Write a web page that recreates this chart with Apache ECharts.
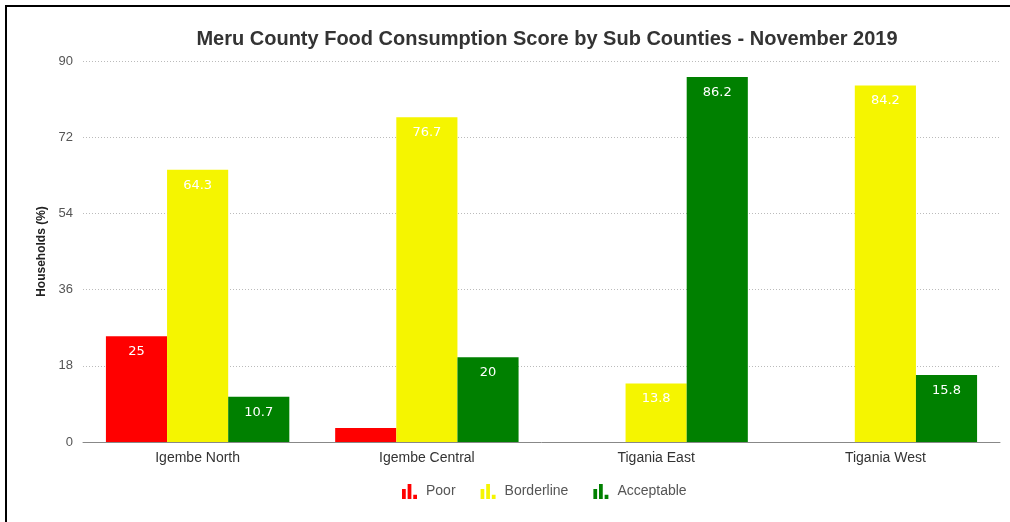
<!DOCTYPE html>
<html><head><meta charset="utf-8">
<script src="https://cdn.jsdelivr.net/npm/echarts@6/dist/echarts.min.js"></script>
<style>
html,body{margin:0;padding:0;background:#fff;}
#frame{position:absolute;left:5px;top:5px;width:1005px;height:517px;border-left:2px solid #000;border-top:2px solid #000;}
#main{position:absolute;left:0;top:0;width:1010px;height:522px;}
</style></head>
<body>
<div id="frame"></div>
<div id="main"></div>
<script>
const categories = ['Igembe North', 'Igembe Central', 'Tigania East', 'Tigania West'];
const poor = [25, 3.3, 0, 0];
const borderline = [64.3, 76.7, 13.8, 84.2];
const acceptable = [10.7, 20, 86.2, 15.8];
const yTicks = [0, 18, 36, 54, 72, 90];

const icon = 'path://M0,4h3v8h-3z M4.5,0h3v12h-3z M9,8.5h3v3.5h-3z';
const labelStyle = {
  show: true, position: 'insideTop', distance: 9, color: '#fff',
  fontFamily: 'DejaVu Sans', fontSize: 13,
  formatter: p => p.value < 5 ? '' : String(p.value)
};
function mk(name, data, color) {
  return { name, type: 'bar', data, barGap: '0%', barCategoryGap: '20%',
    itemStyle: { color }, label: Object.assign({}, labelStyle), emphasis: { disabled: true } };
}
const chart = echarts.init(document.getElementById('main'), null, { renderer: 'canvas' });
chart.setOption({
  animation: false,
  backgroundColor: 'transparent',
  title: { text: 'Meru County Food Consumption Score by Sub Counties - November 2019',
    left: 542, top: 24, textAlign: 'center',
    textStyle: { fontFamily: 'Liberation Sans', fontSize: 20, fontWeight: 'bold', color: '#333' } },
  legend: { bottom: 18, left: 397, itemWidth: 15, itemHeight: 15, itemGap: 25,
    icon: icon,
    textStyle: { fontFamily: 'Liberation Sans', fontSize: 14, color: '#555', padding: [0, 0, 0, 4] },
    data: [{name:'Poor', icon}, {name:'Borderline', icon}, {name:'Acceptable', icon}] },
  grid: { left: 83, right: 10, top: 61, bottom: 80, containLabel: false },
  xAxis: { type: 'category', data: categories,
    axisLine: { lineStyle: { color: '#888' } }, axisTick: { show: false },
    axisLabel: { fontFamily: 'Liberation Sans', fontSize: 14, color: '#333', margin: 9 } },
  yAxis: { type: 'value', min: yTicks[0], max: yTicks[yTicks.length-1], interval: yTicks[1]-yTicks[0],
    name: 'Households (%)', nameLocation: 'middle', nameGap: 34, nameRotate: 90,
    nameTextStyle: { fontFamily: 'Liberation Sans', fontSize: 12, fontWeight: 'bold', color: '#222' },
    axisLine: { show: false }, axisTick: { show: false },
    axisLabel: { fontFamily: 'Liberation Sans', fontSize: 13, color: '#555', margin: 10 },
    splitLine: { lineStyle: { color: '#bbb', type: [1, 2], width: 1 } } },
  series: [ mk('Poor', poor, '#ff0000'), mk('Borderline', borderline, '#f5f500'), mk('Acceptable', acceptable, '#008000') ]
});
</script>
</body></html>
